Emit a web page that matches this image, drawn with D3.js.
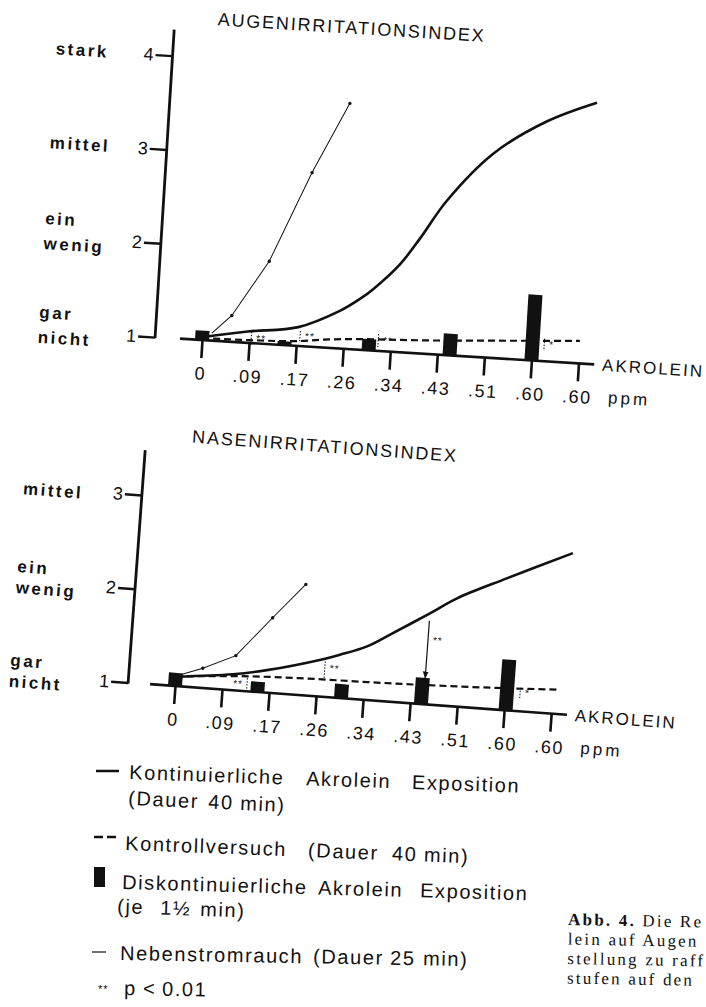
<!DOCTYPE html>
<html>
<head>
<meta charset="utf-8">
<script src="https://cdn.jsdelivr.net/npm/d3@7"></script>
<style>
  body { margin: 0; background: #fff; }
  svg { display: block; }
  text { font-family: "Liberation Sans", Arial, sans-serif; fill: #111; }
</style>
</head>
<body>
<svg id="chart" width="706" height="1007"></svg>
<script>
// concentration steps on the x axis (ppm), as printed
const tickLabels = ['0', '.09', '.17', '.26', '.34', '.43', '.51', '.60', '.60'];

// irritation levels
const eyeLevels = [4, 3, 2, 1];
const eyeLevelNames = [['stark'], ['mittel'], ['ein', 'wenig'], ['gar', 'nicht']];
const noseLevels = [3, 2, 1];
const noseLevelNames = [['mittel'], ['ein', 'wenig'], ['gar', 'nicht']];

// series as [position on the ppm axis (tick steps), index]
const eyeContinuous = [[0, 1.03], [0.96, 1.12], [2.02, 1.20], [2.88, 1.40], [3.29, 1.54], [3.55, 1.65], [4.10, 1.94], [4.48, 2.22], [5.00, 2.64], [5.92, 3.17], [7.02, 3.55], [8.05, 3.78]];
const eyeControl = [[0, 1.02], [1, 1.03], [2, 1.05], [2.5, 1.08], [5, 1.15], [8, 1.24]];
const eyeSidestream = [[0.2, 1.08], [0.60, 1.28], [1.32, 1.88], [2.11, 2.85], [2.82, 3.61]];
const eyeBars = [[0, 1.10], [1.75, 1.04], [3.54, 1.12], [5.26, 1.23], [7.0, 1.70]];
const eyeSig = [[1.04, 0.98, 1.12, '**'], [2.07, 1.05, 1.16, '**'], [3.73, 1.04, 1.18, '**'], [7.25, 1.11, 1.24, '*']];

const noseContinuous = [[0, 1.10], [1.20, 1.17], [1.92, 1.24], [3.09, 1.40], [3.44, 1.46], [4.0, 1.57], [4.46, 1.71], [5.28, 1.97], [5.83, 2.15], [6.85, 2.40], [8.21, 2.72]];
const noseControl = [[0, 1.10], [1.2, 1.15], [2.6, 1.18], [3.9, 1.19], [4.9, 1.20], [6.8, 1.23], [8.1, 1.26]];
const noseSidestream = [[0.08, 1.12], [0.56, 1.21], [1.24, 1.37], [1.96, 1.80], [2.61, 2.18]];
const noseBars = [[0, 1.14], [1.75, 1.11], [3.53, 1.15], [5.23, 1.28], [7.03, 1.54]];
const noseSig = [[1.52, 1.0, 1.14, '**'], [3.14, 1.20, 1.41, '**'], [5.28, 1.28, 1.89, '**'], [7.31, 1.14, 1.25, '*']];

// legend and caption text
const legendLines = [
  ['Kontinuierliche', 'Akrolein', 'Exposition'],
  ['(Dauer', '40', 'min)'],
  ['Kontrollversuch', '(Dauer', '40', 'min)'],
  ['Diskontinuierliche', 'Akrolein', 'Exposition'],
  ['(je', '1½', 'min)'],
  ['Nebenstromrauch', '(Dauer', '25', 'min)'],
  ['p', '<', '0.01']
];
const captionLines = [['Abb. 4.', ' Die Re'], ['', 'lein auf Augen'], ['', 'stellung zu raff'], ['', 'stufen auf den']];

const svg = d3.select('#chart');
svg.append('rect').attr('width', 706).attr('height', 1007).attr('fill', '#fff');

svg.append('defs').append('marker')
  .attr('id', 'arrow').attr('viewBox', '0 0 10 10').attr('refX', 9).attr('refY', 5)
  .attr('markerWidth', 6).attr('markerHeight', 6).attr('orient', 'auto')
  .append('path').attr('d', 'M0,1 L10,5 L0,9 Z').attr('fill', '#111');

const STEP = 47.15, UNIT = 94;

const panels = [
  { title: 'AUGENIRRITATIONSINDEX', levels: eyeLevels, names: eyeLevelNames,
    cont: eyeContinuous, ctrl: eyeControl, side: eyeSidestream, bars: eyeBars, sig: eyeSig,
    angle: 3.55, x0: 202, axisY: 340, axisFrom: 180, axisTo: 595, yAxisX: 155, yTop: 32,
    nameX: 38, oneDy: 6, twoDy: [-12, 13], titleX: 198, titleY: 25, sigLeft: [], arrow: [] },
  { title: 'NASENIRRITATIONSINDEX', levels: noseLevels, names: noseLevelNames,
    cont: noseContinuous, ctrl: noseControl, side: noseSidestream, bars: noseBars, sig: noseSig,
    angle: 4.2, x0: 175, axisY: 686, axisFrom: 150, axisTo: 568, yAxisX: 128, yTop: 453,
    nameX: 9, oneDy: 8, twoDy: [-8, 13], titleX: 174, titleY: 442, sigLeft: [0], arrow: [2] }
];

panels.forEach(drawPanel);

function drawPanel(cfg) {
  const g = svg.append('g').attr('transform', `rotate(${cfg.angle},${cfg.x0},${cfg.axisY})`);
  const x = d3.scaleLinear().domain([0, 8]).range([cfg.x0, cfg.x0 + 8 * STEP]);
  const top = d3.max(cfg.levels);
  const y = d3.scaleLinear().domain([1, top]).range([cfg.axisY, cfg.axisY - UNIT * (top - 1)]);

  // title
  g.append('text').attr('x', cfg.titleX).attr('y', cfg.titleY)
    .attr('font-size', 18).attr('letter-spacing', 1.8).text(cfg.title);

  // x axis
  const xAxis = d3.axisBottom(x).tickValues(d3.range(tickLabels.length))
    .tickFormat(i => tickLabels[i]).tickSize(18).tickPadding(9);
  const xg = g.append('g').attr('transform', `translate(0,${cfg.axisY})`).call(xAxis);
  xg.select('.domain').remove();
  xg.selectAll('.tick line').attr('stroke', '#111').attr('stroke-width', 2.6);
  xg.selectAll('.tick text').attr('font-size', 18).attr('letter-spacing', 1.5)
    .attr('font-family', '"Liberation Sans", Arial, sans-serif').attr('fill', '#111');
  g.append('line').attr('x1', cfg.axisFrom).attr('x2', cfg.axisTo)
    .attr('y1', cfg.axisY).attr('y2', cfg.axisY).attr('stroke', '#111').attr('stroke-width', 2.6);
  g.append('text').attr('x', cfg.axisTo + 8).attr('y', cfg.axisY + 6)
    .attr('font-size', 17).attr('letter-spacing', 2).text('AKROLEIN');
  g.append('text').attr('x', cfg.x0 + 409).attr('y', cfg.axisY + 38)
    .attr('font-size', 17).attr('letter-spacing', 3).text('ppm');

  // y axis
  const yAxis = d3.axisLeft(y).tickValues(cfg.levels).tickFormat(d3.format('d')).tickSize(17).tickPadding(2);
  const yg = g.append('g').attr('transform', `translate(${cfg.yAxisX},0)`).call(yAxis);
  yg.select('.domain').remove();
  yg.selectAll('.tick line').attr('stroke', '#111').attr('stroke-width', 2.4);
  yg.selectAll('.tick text').attr('font-size', 18)
    .attr('font-family', '"Liberation Sans", Arial, sans-serif').attr('fill', '#111');
  g.append('line').attr('x1', cfg.yAxisX).attr('x2', cfg.yAxisX)
    .attr('y1', y(1) + 1).attr('y2', cfg.yTop).attr('stroke', '#111').attr('stroke-width', 2.8);

  // level names
  cfg.levels.forEach((v, i) => {
    const lines = cfg.names[i];
    const dys = lines.length === 1 ? [cfg.oneDy] : cfg.twoDy;
    lines.forEach((s, j) => {
      g.append('text').attr('x', cfg.nameX).attr('y', y(v) + dys[j])
        .attr('font-size', 17).attr('font-weight', 'bold').attr('letter-spacing', 2.5).text(s);
    });
  });

  const line = d3.line().x(d => x(d[0])).y(d => y(d[1]));

  // control (dashed)
  g.append('path').datum(cfg.ctrl)
    .attr('d', line.curve(d3.curveMonotoneX))
    .attr('fill', 'none').attr('stroke', '#111').attr('stroke-width', 2.2).attr('stroke-dasharray', '7,4');

  // discontinuous exposure (bars)
  g.selectAll('rect.bar').data(cfg.bars).join('rect').attr('class', 'bar')
    .attr('x', d => x(d[0]) - 7).attr('width', 14)
    .attr('y', d => y(d[1])).attr('height', d => y(1) - y(d[1]))
    .attr('fill', '#111');

  // continuous exposure
  g.append('path').datum(cfg.cont)
    .attr('d', line.curve(d3.curveCatmullRom.alpha(0.5)))
    .attr('fill', 'none').attr('stroke', '#111').attr('stroke-width', 2.6);

  // sidestream smoke
  g.append('path').datum(cfg.side)
    .attr('d', line.curve(d3.curveLinear))
    .attr('fill', 'none').attr('stroke', '#111').attr('stroke-width', 1);
  g.selectAll('circle.dot').data(cfg.side.slice(1)).join('circle').attr('class', 'dot')
    .attr('cx', d => x(d[0])).attr('cy', d => y(d[1])).attr('r', 1.7).attr('fill', '#111');

  // significance marks
  cfg.sig.forEach((d, i) => {
    const isArrow = cfg.arrow.includes(i);
    const l = g.append('line').attr('x1', x(d[0])).attr('x2', x(d[0]))
      .attr('y1', y(d[2])).attr('y2', y(d[1]))
      .attr('stroke', '#111').attr('stroke-width', isArrow ? 1.2 : 1);
    if (isArrow) l.attr('marker-end', 'url(#arrow)');
    else l.attr('stroke-dasharray', '1.5,1.5');
    const left = cfg.sigLeft.includes(i);
    g.append('text').attr('x', x(d[0]) + (left ? -4 : 5))
      .attr('y', y((d[1] + d[2]) / 2) + (isArrow ? -6 : 3))
      .attr('text-anchor', left ? 'end' : 'start')
      .attr('font-size', 10).attr('letter-spacing', 1).text(d[3]);
  });
}

// legend
const legendLayout = [
  { x: [129, 306, 412], y: 779, a: 2.0 },
  { x: [128, 208, 240], y: 805, a: 2.5 },
  { x: [125, 308, 392, 424], y: 850, a: 2.2 },
  { x: [122, 318, 420], y: 889, a: 1.6 },
  { x: [117, 160, 200], y: 913, a: 2.0 },
  { x: [120, 313, 390, 423], y: 960, a: 1.0 },
  { x: [124, 143, 162], y: 995, a: 1.0 }
];
const lg = svg.append('g');
legendLines.forEach((words, i) => {
  const L = legendLayout[i];
  const t = lg.append('g').attr('transform', `rotate(${L.a},${L.x[0]},${L.y})`);
  words.forEach((w, j) => {
    t.append('text').attr('x', L.x[j]).attr('y', L.y)
      .attr('font-size', 20).attr('letter-spacing', 1.6).text(w);
  });
});
lg.append('line').attr('x1', 96).attr('x2', 119).attr('y1', 771).attr('y2', 771)
  .attr('stroke', '#111').attr('stroke-width', 2.5);
lg.append('line').attr('x1', 94).attr('x2', 116).attr('y1', 837).attr('y2', 837)
  .attr('stroke', '#111').attr('stroke-width', 2.5).attr('stroke-dasharray', '9,4');
lg.append('rect').attr('x', 94).attr('y', 867).attr('width', 11).attr('height', 20).attr('fill', '#111');
lg.append('line').attr('x1', 92).attr('x2', 106).attr('y1', 952).attr('y2', 952)
  .attr('stroke', '#111').attr('stroke-width', 1.2);
lg.append('text').attr('x', 98).attr('y', 993).attr('font-size', 11).attr('letter-spacing', 1).text('**');

// caption
const cap = svg.append('g').attr('transform', 'rotate(1,568,925)');
captionLines.forEach((parts, i) => {
  const t = cap.append('text').attr('x', 568).attr('y', 925 + i * 19.5)
    .attr('font-size', 17).attr('letter-spacing', 2.2)
    .style('font-family', '"Liberation Serif", "Times New Roman", serif');
  t.append('tspan').attr('font-weight', 'bold').text(parts[0]);
  t.append('tspan').text(parts[1]);
});
</script>
</body>
</html>
